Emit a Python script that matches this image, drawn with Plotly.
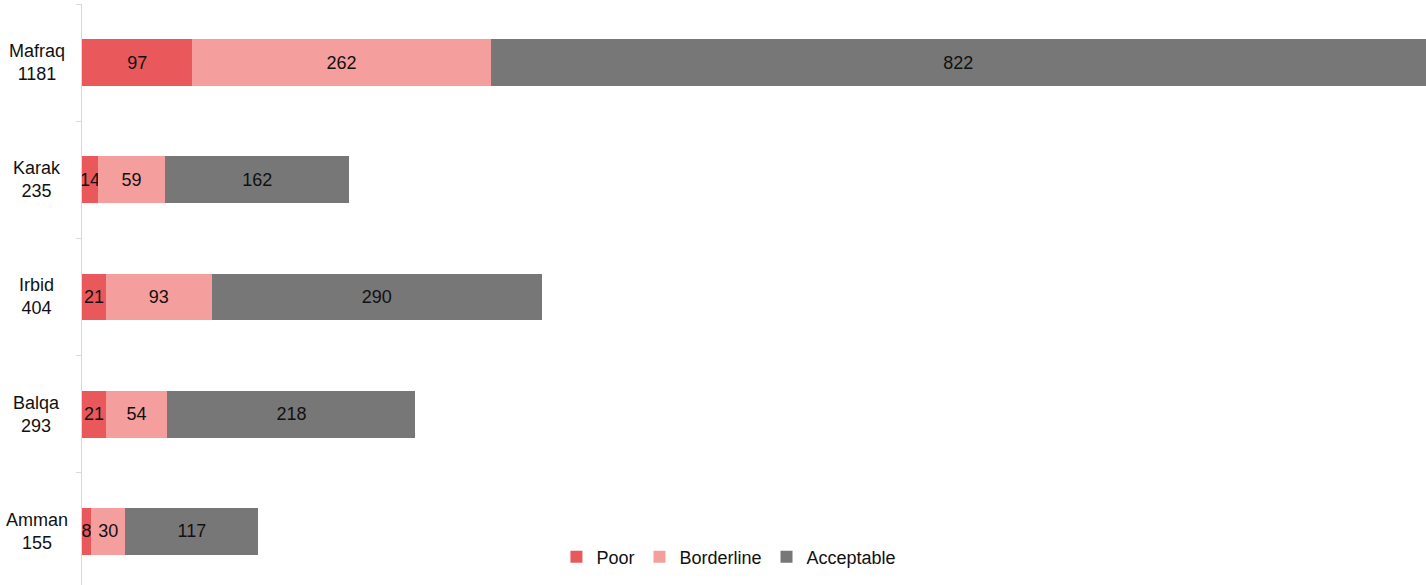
import plotly.graph_objects as go

regions = ["Amman", "Balqa", "Irbid", "Karak", "Mafraq"]
totals = [155, 293, 404, 235, 1181]
poor = [8, 21, 21, 14, 97]
borderline = [30, 54, 93, 59, 262]
acceptable = [117, 218, 290, 162, 822]

series = [
    ("Poor", poor, "#E9585B"),
    ("Borderline", borderline, "#F59E9E"),
    ("Acceptable", acceptable, "#777777"),
]

FONT = "Liberation Sans, Arial, sans-serif"

fig = go.Figure()
for name, vals, color in series:
    fig.add_trace(go.Bar(
        y=regions, x=vals, name=name, orientation="h",
        marker=dict(color=color, line=dict(width=0)),
        text=[str(v) for v in vals], textposition="inside", textangle=0,
        insidetextanchor="middle", constraintext="none",
        textfont=dict(color="#111111", size=18, family=FONT),
        hoverinfo="x+name",
    ))

for r, t in zip(regions, totals):
    fig.add_annotation(
        x=-0.0335, xref="paper", y=r, yref="y",
        text=f"{r}<br>{t}", showarrow=False, align="center",
        xanchor="center", yanchor="middle",
        font=dict(size=18, color="#111111", family=FONT),
    )

fig.update_layout(
    barmode="stack",
    bargap=0.6,
    width=1426, height=585,
    margin=dict(l=82, r=0, t=4, b=0),
    plot_bgcolor="white", paper_bgcolor="white",
    font=dict(family=FONT, size=18, color="#111111"),
    showlegend=True,
    legend=dict(orientation="h", x=0.353, xanchor="left", y=0.048, yanchor="middle",
                font=dict(size=18, family=FONT), traceorder="normal",
                bgcolor="rgba(0,0,0,0)", itemwidth=30),
    xaxis=dict(range=[0, 1181], showgrid=False, zeroline=False, showticklabels=False,
               showline=False, ticks=""),
    yaxis=dict(categoryorder="array", categoryarray=regions, range=[-0.458, 4.5],
               showgrid=False, zeroline=False, showline=True, linecolor="#d9d9d9",
               linewidth=1, ticks="outside", tickson="boundaries", ticklen=5,
               tickcolor="#d9d9d9", showticklabels=False),
)

fig.write_html("out.html", config={"displayModeBar": False},
               post_script="document.body.style.margin='0';document.body.style.overflow='hidden';")
